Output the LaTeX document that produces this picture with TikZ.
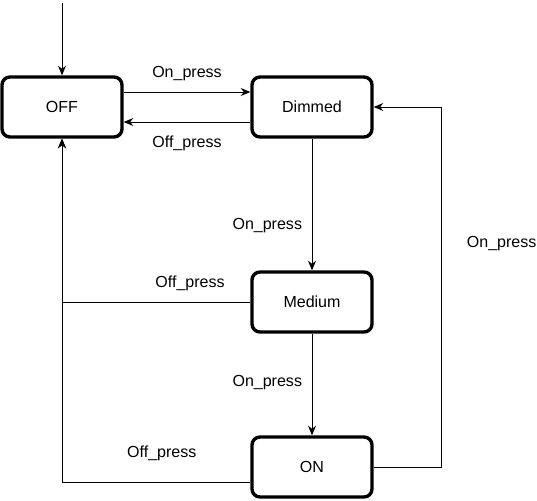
\documentclass[tikz,border=0pt]{standalone}
\usepackage{fontspec}
\setmainfont{Liberation Sans}
\usepackage{tikz}
\usetikzlibrary{calc, arrows.meta}
\tikzstyle{state} = [rectangle, rounded corners=0.2cm, minimum width=3cm, minimum height=1.5cm, text centered, draw=black, line width=2.4pt]
\tikzstyle{arrow} = [-{Stealth[length=2.4mm, width=2mm]}, line width=0.7pt]
\tikzstyle{every node}=[font=\fontsize{11.4}{13}\selectfont]

\begin{document}
\begin{tikzpicture}[node distance=6.25cm]
  \useasboundingbox (-1.55,2.675) rectangle (11.875,-9.825);
  %states
  \node (off) [state] {OFF};
  \node (dimmed) [state, right of=off] {Dimmed};
  \node (medium) [state, below of=dimmed, yshift=1.375cm] {Medium};
  \node (on) [state, below of=medium, yshift=2.125cm] {ON};
  \coordinate (init) at ($(off.north) + (0,1.8)$);

  %transitions
  \draw [arrow](init) -- (off);
  \draw [arrow]($(off.east) + (0,0.375)$) -- node[above=0.15cm] {On\_press} ($(dimmed.west) + (0,0.375)$);
  \draw [arrow]($(dimmed.west) + (0,-0.375)$) -- node[below=0.22cm] {Off\_press} ($(off.east) + (0,-0.375)$);
  \draw [arrow](dimmed) -- node[pos=0.66, left=0.12cm] {On\_press} (medium);
  \draw [arrow](medium) -- node[pos=0.48, left=0.12cm] {On\_press} (on);
  \draw [arrow](on.east) -- ++(1.7,0) |- node[pos=0.31, right=0.5cm] {On\_press} (dimmed.east);
  \draw [arrow](medium.west) -| node[pos=0.16, above=0.15cm] {Off\_press} (off.south);
  \draw [arrow]($(on.west) + (0,-0.375)$) -| node[pos=0.235, above=0.4cm] {Off\_press} (off.south);
\end{tikzpicture}
\end{document}
